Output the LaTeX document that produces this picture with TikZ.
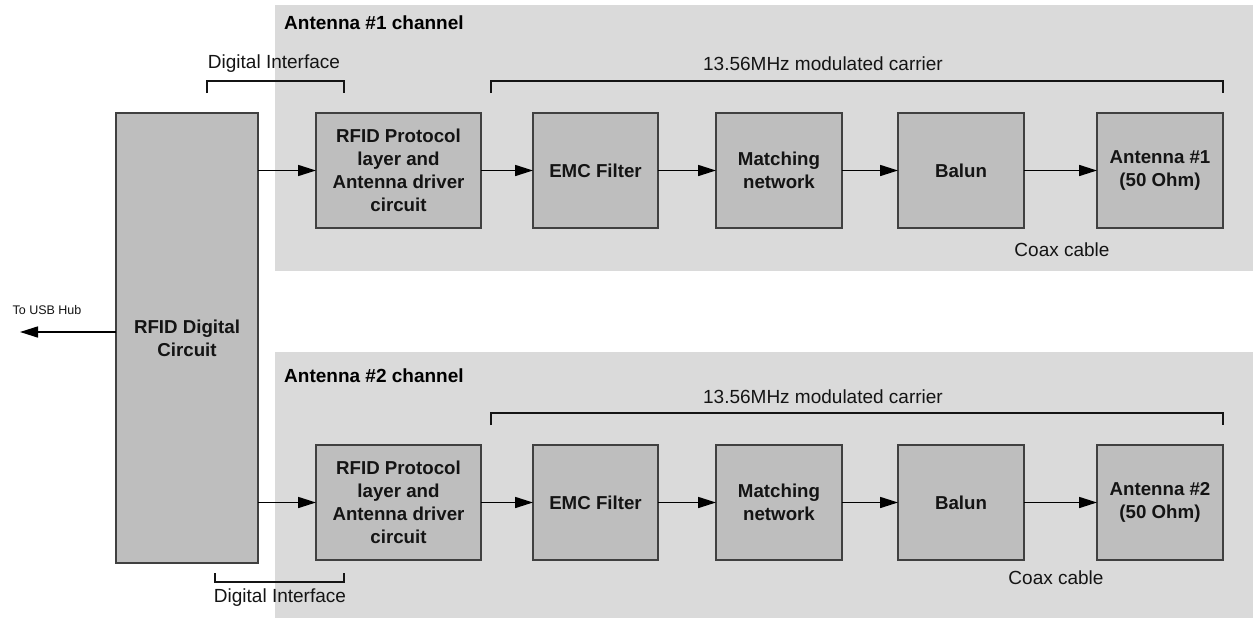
\documentclass[tikz,border=0pt]{standalone}
\usepackage{fontspec}
\setmainfont{Liberation Sans}
\usetikzlibrary{arrows.meta}
\definecolor{bgc}{HTML}{DADADA}
\definecolor{boxc}{HTML}{BEBEBE}
\definecolor{edgec}{HTML}{404040}
\definecolor{txtc}{HTML}{141414}
\tikzset{
  blk/.style={draw=edgec, fill=boxc, line width=1.5pt, inner sep=0pt, outer sep=0pt,
    minimum height=115pt, align=center, text=txtc,
    font=\fontsize{18.7}{23}\selectfont\bfseries},
  conn/.style={draw=black, line width=1.6pt, -{Triangle[length=18pt 0 0,width=11pt 0]}},
  brk/.style={draw=txtc, line width=2.5pt},
  lbl/.style={inner sep=0pt, text=txtc, font=\fontsize{19}{23}\selectfont},
  ttl/.style={inner sep=0pt, anchor=west, text=black, font=\fontsize{19}{23}\selectfont\bfseries},
  chan/.style={fill=bgc, draw=none}
}
\begin{document}
\begin{tikzpicture}[x=1pt,y=-1pt]
\useasboundingbox (0,0) rectangle (1255,618);
\fill[white] (0,0) rectangle (1255,618);
% channel backgrounds
\path[chan] (275,5) rectangle (1253,271);
\path[chan] (275,352) rectangle (1253,618);
\node[ttl] (t1) at (284,23) {Antenna \#1 channel};
\node[ttl] (t2) at (284,376) {Antenna \#2 channel};
% digital circuit
\node[blk, minimum width=142pt, minimum height=450pt] (dig) at (187,338) {RFID Digital\\Circuit};
% channel 1
\node[blk, minimum width=165pt] (p1) at (398.5,170.5) {RFID Protocol\\layer and\\Antenna driver\\circuit};
\node[blk, minimum width=125pt] (e1) at (595.5,170.5) {EMC Filter};
\node[blk, minimum width=126pt] (m1) at (779,170.5) {Matching\\network};
\node[blk, minimum width=126pt] (b1) at (961,170.5) {Balun};
\node[blk, minimum width=126pt] (a1) at (1160,170.5) {Antenna \#1\\(50 Ohm)};
% channel 2
\node[blk, minimum width=165pt] (p2) at (398.5,502.5) {RFID Protocol\\layer and\\Antenna driver\\circuit};
\node[blk, minimum width=125pt] (e2) at (595.5,502.5) {EMC Filter};
\node[blk, minimum width=126pt] (m2) at (779,502.5) {Matching\\network};
\node[blk, minimum width=126pt] (b2) at (961,502.5) {Balun};
\node[blk, minimum width=126pt] (a2) at (1160,502.5) {Antenna \#2\\(50 Ohm)};
% connectors
\draw[conn] (dig.east |- p1.west) -- (p1.west);
\draw[conn] (p1) -- (e1);
\draw[conn] (e1) -- (m1);
\draw[conn] (m1) -- (b1);
\draw[conn] (b1) -- (a1);
\draw[conn] (dig.east |- p2.west) -- (p2.west);
\draw[conn] (p2) -- (e2);
\draw[conn] (e2) -- (m2);
\draw[conn] (m2) -- (b2);
\draw[conn] (b2) -- (a2);
\coordinate (usb) at (20,332);
\draw[conn] (dig.west |- usb) -- (usb);
\node[lbl, font=\fontsize{12.5}{15}\selectfont] (usbl) at (47,310) {To USB Hub};
% brackets and labels
\draw[brk] (207,93) -- (207,81) -- (344,81) -- (344,93);
\node[lbl] (di1) at (274,64) {Digital Interface};
\draw[brk] (491,93) -- (491,81) -- (1223,81) -- (1223,93);
\node[lbl] (c1) at (823,64) {13.56MHz modulated carrier};
\node[lbl] (cx1) at (1062,250) {Coax cable};
\draw[brk] (215,573) -- (215,582) -- (344,582) -- (344,573);
\node[lbl] (di2) at (280,598) {Digital Interface};
\draw[brk] (491,425) -- (491,413) -- (1223,413) -- (1223,425);
\node[lbl] (c2) at (823,397) {13.56MHz modulated carrier};
\node[lbl] (cx2) at (1056,578) {Coax cable};
\end{tikzpicture}
\end{document}
